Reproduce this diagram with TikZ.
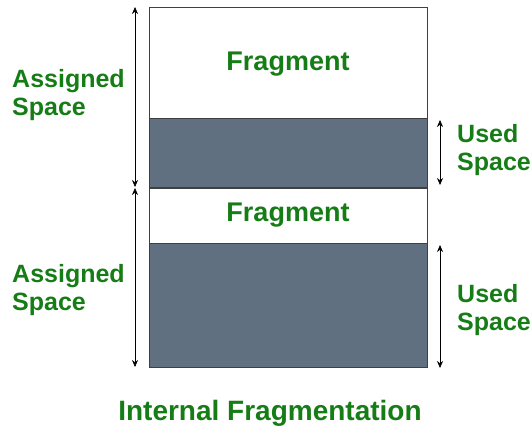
\documentclass[tikz,border=0pt]{standalone}
\usepackage{fontspec}
\setmainfont{Liberation Sans}
\usetikzlibrary{arrows.meta}
\definecolor{labelgreen}{RGB}{22,124,22}
\definecolor{usedgray}{RGB}{96,112,128}
\begin{document}
\begin{tikzpicture}[x=1pt,y=-1pt,
  block/.style={draw=black!75,line width=0.8pt,inner sep=0pt,outer sep=0pt,anchor=north west},
  freeblock/.style={block,fill=white},
  usedblock/.style={block,fill=usedgray},
  span/.style={{Stealth[length=7pt,width=6pt]}-{Stealth[length=7pt,width=6pt]},line width=0.6pt,black},
  lbl/.style={text=labelgreen,font=\fontsize{25}{28}\selectfont\bfseries,align=left,inner sep=0pt},
  fraglbl/.style={lbl,font=\fontsize{27}{30}\selectfont\bfseries},
  title/.style={text=labelgreen,font=\fontsize{28}{32}\selectfont\bfseries,inner sep=0pt}]
\useasboundingbox (0,0) rectangle (532,434);
% memory blocks
\node[freeblock,minimum width=278pt,minimum height=111pt] (f1) at (149,7) {};
\node[usedblock,minimum width=278pt,minimum height=69pt] (u1) at (149,118) {};
\node[freeblock,minimum width=278pt,minimum height=55pt] (f2) at (149,188) {};
\node[usedblock,minimum width=278pt,minimum height=124pt] (u2) at (149,243) {};
\node[fraglbl] (t1) at ([yshift=-2pt]f1.center) {Fragment};
\node[fraglbl] (t2) at (f2.center) {Fragment};
% extent markers
\coordinate (a1t) at (135,7);
\coordinate (a1b) at (135,187);
\coordinate (a2t) at (135,188);
\coordinate (a2b) at (135,367);
\coordinate (s1t) at (440,120);
\coordinate (s1b) at (440,185);
\coordinate (s2t) at (440,245);
\coordinate (s2b) at (440,368);
\draw[span] (a1t) -- (a1b);
\draw[span] (a2t) -- (a2b);
\draw[span] (s1t) -- (s1b);
\draw[span] (s2t) -- (s2b);
% labels
\node[lbl,anchor=west] (as1) at (12,95) {Assigned\\Space};
\node[lbl,anchor=west] (as2) at (12,290) {Assigned\\Space};
\node[lbl,anchor=west] (us1) at (457,150) {Used\\Space};
\node[lbl,anchor=west] (us2) at (457,310) {Used\\Space};
\node[title] (cap) at (270,413) {Internal Fragmentation};
\end{tikzpicture}
\end{document}
